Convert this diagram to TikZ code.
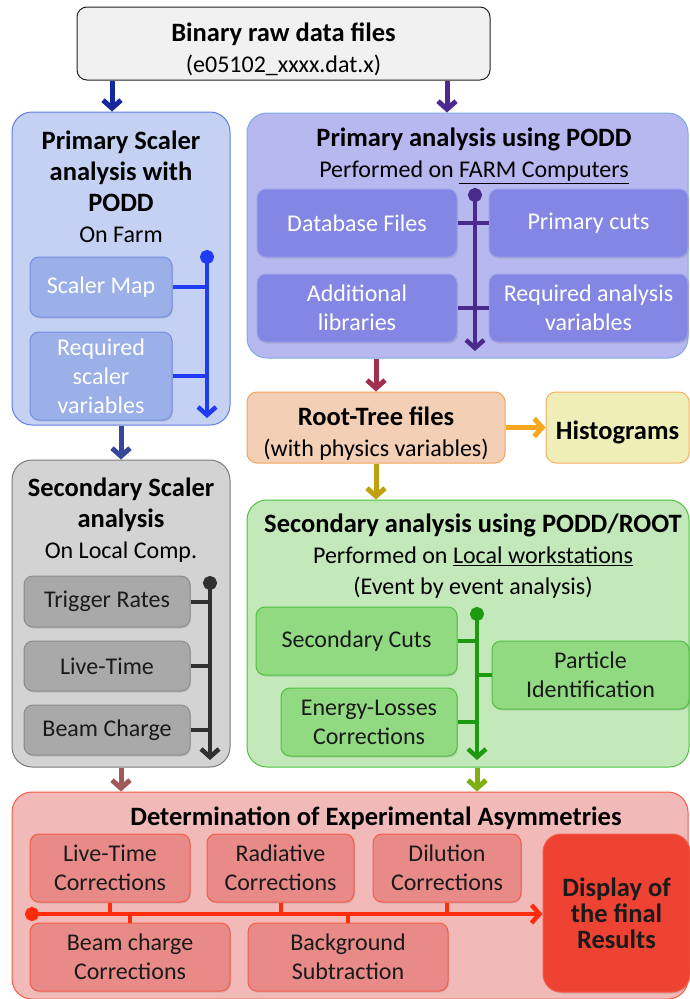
\documentclass[tikz,border=0pt]{standalone}
\usepackage{fontspec}
\setmainfont{Carlito}
\usepackage{tikz}
\usetikzlibrary{shadows, arrows.meta}

\definecolor{rawfill}{HTML}{F1F1F1}
\definecolor{rawline}{HTML}{222222}
\definecolor{psfill}{HTML}{C4D1F2}
\definecolor{psline}{HTML}{5F7FE0}
\definecolor{psitem}{HTML}{9BAFE8}
\definecolor{psitemline}{HTML}{7390E0}
\definecolor{pstrunk}{HTML}{1F3BF5}
\definecolor{pafill}{HTML}{B7B8F0}
\definecolor{paline}{HTML}{84A8E0}
\definecolor{paitem}{HTML}{8486E3}
\definecolor{paitemline}{HTML}{9AA0E8}
\definecolor{patrunk}{HTML}{4A2A8A}
\definecolor{rtfill}{HTML}{F3CFB6}
\definecolor{rtline}{HTML}{F5A25A}
\definecolor{hsfill}{HTML}{EFEDB8}
\definecolor{hsline}{HTML}{F5B060}
\definecolor{ssfill}{HTML}{D3D3D3}
\definecolor{ssline}{HTML}{7A7A7A}
\definecolor{ssitem}{HTML}{A9A9A9}
\definecolor{ssitemline}{HTML}{8A8A8A}
\definecolor{sstrunk}{HTML}{303030}
\definecolor{safill}{HTML}{C3E9BA}
\definecolor{saline}{HTML}{4CC23C}
\definecolor{saitem}{HTML}{92DA82}
\definecolor{saitemline}{HTML}{50C040}
\definecolor{satrunk}{HTML}{1E9A10}
\definecolor{asfill}{HTML}{F2B9B9}
\definecolor{asline}{HTML}{F55A45}
\definecolor{asitem}{HTML}{E88A88}
\definecolor{asfinal}{HTML}{EE4333}
\definecolor{astrunk}{HTML}{FF2C0C}
\definecolor{darktext}{HTML}{1A1A1A}
\definecolor{flowA}{HTML}{1428A0}
\definecolor{flowB}{HTML}{4A2A8F}
\definecolor{flowC}{HTML}{38479A}
\definecolor{flowD}{HTML}{A03050}
\definecolor{flowE}{HTML}{F7A820}
\definecolor{flowF}{HTML}{C0A010}
\definecolor{flowG}{HTML}{A05A5A}
\definecolor{flowH}{HTML}{80B010}

\newcommand{\bodyfont}{\fontsize{24}{31}\selectfont}
\newcommand{\itemfont}{\fontsize{24}{29}\selectfont}
\newcommand{\boxtitle}[1]{{\fontsize{26.5}{31}\selectfont\bfseries #1}}

\tikzset{
    panel/.style = {draw, line width=1pt, rounded corners=20pt, inner sep=0pt},
    headtext/.style = {align=center, inner sep=0pt, font=\bodyfont},
    item/.style = {draw, line width=1pt, rounded corners=9pt, inner sep=0pt, align=center, font=\itemfont,
        drop shadow={shadow xshift=1pt, shadow yshift=-1.5pt, opacity=0.25}},
    flow/.style = {line width=5pt, -{Straight Barb[length=8pt, width=18pt]}},
    trunk/.style = {line width=4.5pt, {Circle[length=14pt]}-{Straight Barb[length=8pt, width=18pt]}},
    branch/.style = {line width=4pt},
}

\begin{document}
\begin{tikzpicture}[x=1pt, y=-1pt]
    \useasboundingbox (0,0) rectangle (690,999);

    % raw data
    \node[panel, rounded corners=10pt, fill=rawfill, draw=rawline, minimum width=413, minimum height=73] (raw) at (283.5,43.5) {};
    \node[headtext] (rawhead) at (283.5,49) {\boxtitle{Binary raw data files}\\(e05102\_xxxx.dat.x)};

    % primary scaler analysis
    \node[panel, fill=psfill, draw=psline, minimum width=218, minimum height=313] (pscaler) at (121,268.5) {};
    \node[headtext] (pscalerhead) at (121,187) {\boxtitle{Primary Scaler}\\\boxtitle{analysis with}\\\boxtitle{PODD}\\On Farm};
    \node[item, fill=psitem, draw=psitemline, text=white, minimum width=142, minimum height=60] (smap) at (101,287) {Scaler Map};
    \node[item, fill=psitem, draw=psitemline, text=white, minimum width=142, minimum height=88] (sreqvar) at (101,376) {Required\\scaler\\variables};
    \coordinate (pstop) at (207,250);
    \coordinate (psend) at (207,418);
    \draw[branch, pstrunk] (smap.east) -- (smap.east -| pstop);
    \draw[branch, pstrunk] (sreqvar.east) -- (sreqvar.east -| pstop);
    \draw[trunk, pstrunk] (pstop) -- (psend);

    % primary analysis
    \node[panel, fill=pafill, draw=paline, minimum width=441, minimum height=245] (primary) at (467.5,235.5) {};
    \node[headtext] (primaryhead) at (474,156) {\boxtitle{Primary analysis using PODD}\\Performed on \underline{FARM Computers}};
    \node[item, fill=paitem, draw=paitemline, text=white, minimum width=200, minimum height=68] (dbfiles) at (357,223) {Database Files};
    \node[item, fill=paitem, draw=paitemline, text=white, minimum width=199, minimum height=68] (pcuts) at (588.5,223) {Primary cuts};
    \node[item, fill=paitem, draw=paitemline, text=white, minimum width=200, minimum height=68] (addlib) at (357,308) {Additional\\libraries};
    \node[item, fill=paitem, draw=paitemline, text=white, minimum width=199, minimum height=68] (reqvar) at (588.5,308) {Required analysis\\variables};
    \coordinate (patop) at (475,188);
    \coordinate (paend) at (475,351);
    \draw[branch, patrunk] (dbfiles.east) -- (pcuts.west);
    \draw[branch, patrunk] (addlib.east) -- (reqvar.west);
    \draw[trunk, patrunk] (patop) -- (paend);

    % root tree and histograms
    \node[panel, rounded corners=10pt, fill=rtfill, draw=rtline, minimum width=258, minimum height=71] (roottree) at (376,427.5) {};
    \node[headtext] (roottreehead) at (376,434) {\boxtitle{Root-Tree files}\\(with physics variables)};
    \node[panel, rounded corners=10pt, fill=hsfill, draw=hsline, minimum width=143, minimum height=71] (histo) at (617.5,427.5) {};
    \node[headtext] (histohead) at (617.5,432) {\boxtitle{Histograms}};

    % secondary scaler analysis
    \node[panel, fill=ssfill, draw=ssline, minimum width=218, minimum height=307] (sscaler) at (121,613.5) {};
    \node[headtext] (sscalerhead) at (121,520) {\boxtitle{Secondary Scaler}\\\boxtitle{analysis}\\On Local Comp.};
    \node[item, fill=ssitem, draw=ssitemline, text=darktext, minimum width=166, minimum height=51] (trig) at (107,601.5) {Trigger Rates};
    \node[item, fill=ssitem, draw=ssitemline, text=darktext, minimum width=166, minimum height=50] (livet) at (107,666) {Live-Time};
    \node[item, fill=ssitem, draw=ssitemline, text=darktext, minimum width=166, minimum height=50] (beamq) at (107,730) {Beam Charge};
    \coordinate (sstop) at (210,576);
    \coordinate (ssend) at (210,760);
    \draw[branch, sstrunk] (trig.east) -- (trig.east -| sstop);
    \draw[branch, sstrunk] (livet.east) -- (livet.east -| sstop);
    \draw[branch, sstrunk] (beamq.east) -- (beamq.east -| sstop);
    \draw[trunk, sstrunk] (sstop) -- (ssend);

    % secondary analysis
    \node[panel, fill=safill, draw=saline, minimum width=442, minimum height=267] (secondary) at (468,633.5) {};
    \node[headtext] (secondaryhead) at (473,556) {\boxtitle{Secondary analysis using PODD/ROOT}\\Performed on \underline{Local workstations}\\(Event by event analysis)};
    \node[item, fill=saitem, draw=saitemline, text=darktext, minimum width=201, minimum height=68] (seccuts) at (356.5,641) {Secondary Cuts};
    \node[item, fill=saitem, draw=saitemline, text=darktext, minimum width=197, minimum height=68] (pid) at (590.5,675) {Particle\\Identification};
    \node[item, fill=saitem, draw=saitemline, text=darktext, minimum width=176, minimum height=68] (eloss) at (369,722) {Energy-Losses\\Corrections};
    \coordinate (satop) at (477,607);
    \coordinate (saend) at (477,760);
    \draw[branch, satrunk] (seccuts.east) -- (seccuts.east -| satop);
    \draw[branch, satrunk] (pid.west) -- (pid.west -| satop);
    \draw[branch, satrunk] (eloss.east) -- (eloss.east -| satop);
    \draw[trunk, satrunk] (satop) -- (saend);

    % asymmetries
    \node[panel, fill=asfill, draw=asline, minimum width=676, minimum height=207] (asym) at (350,895.5) {};
    \node[headtext] (asymhead) at (376,818) {\boxtitle{Determination of Experimental Asymmetries}};
    \node[item, fill=asitem, draw=asline, text=darktext, minimum width=160, minimum height=68] (ltcorr) at (110,868) {Live-Time\\Corrections};
    \node[item, fill=asitem, draw=asline, text=darktext, minimum width=147, minimum height=68] (radcorr) at (280.5,868) {Radiative\\Corrections};
    \node[item, fill=asitem, draw=asline, text=darktext, minimum width=148, minimum height=68] (dilcorr) at (447,868) {Dilution\\Corrections};
    \node[item, fill=asitem, draw=asline, text=darktext, minimum width=200, minimum height=68] (bccorr) at (130,957) {Beam charge\\Corrections};
    \node[item, fill=asitem, draw=asline, text=darktext, minimum width=200, minimum height=68] (bgsub) at (348,957) {Background\\Subtraction};
    \node[item, rounded corners=18pt, fill=asfinal, draw=asline, text=darktext, minimum width=147, minimum height=158] (final) at (616.5,913) {\boxtitle{Display of}\\[-3pt]\boxtitle{the final}\\[-3pt]\boxtitle{Results}};
    \coordinate (astart) at (25,914);
    \draw[branch, astrunk] (ltcorr.south) -- (ltcorr.south |- astart);
    \draw[branch, astrunk] (radcorr.south) -- (radcorr.south |- astart);
    \draw[branch, astrunk] (dilcorr.south) -- (dilcorr.south |- astart);
    \draw[branch, astrunk] (bccorr.north) -- (bccorr.north |- astart);
    \draw[branch, astrunk] (bgsub.north) -- (bgsub.north |- astart);
    \draw[trunk, astrunk] (astart) -- (final.west |- astart);

    % flow between stages
    \draw[flow, flowA] (raw.south -| 112,0) -- (pscaler.north -| 112,0);
    \draw[flow, flowB] (raw.south -| 447,0) -- (primary.north -| 447,0);
    \draw[flow, flowC] (pscaler.south) -- (sscaler.north);
    \draw[flow, flowD] (primary.south -| roottree.north) -- (roottree.north);
    \draw[flow, flowE] (roottree.east) -- (histo.west);
    \draw[flow, flowF] (roottree.south) -- (secondary.north -| roottree.south);
    \draw[flow, flowG] (sscaler.south) -- (asym.north -| sscaler.south);
    \draw[flow, flowH] (secondary.south -| satop) -- (asym.north -| satop);
\end{tikzpicture}
\end{document}
